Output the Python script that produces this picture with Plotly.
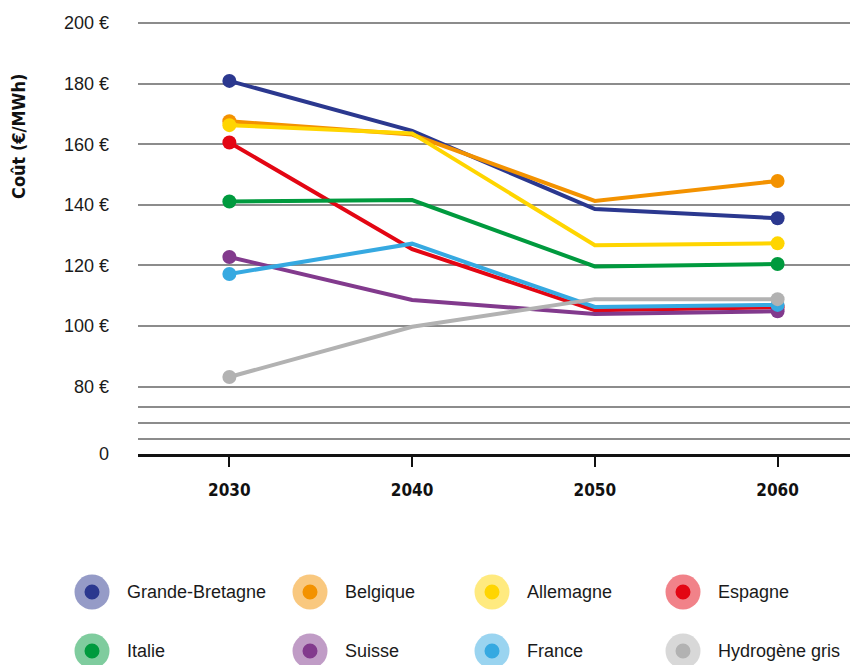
import plotly.graph_objects as go

years = [2030, 2040, 2050, 2060]

grande_bretagne = [180.9, 164.4, 138.6, 135.6]
belgique = [167.6, 163.2, 141.3, 147.9]
allemagne = [166.3, 163.6, 126.7, 127.3]
espagne = [160.6, 125.4, 105.2, 106.2]
italie = [141.1, 141.6, 119.7, 120.5]
suisse = [122.8, 108.6, 104.0, 104.9]
france = [117.2, 127.2, 106.3, 107.0]
hydrogene_gris = [83.2, 99.8, 108.9, 108.9]

names = ["Grande-Bretagne", "Belgique", "Allemagne", "Espagne",
         "Italie", "Suisse", "France", "Hydrogène gris"]
series = [grande_bretagne, belgique, allemagne, espagne,
          italie, suisse, france, hydrogene_gris]
colors = ["#2B388F", "#F39200", "#FFD500", "#E30613",
          "#009A3E", "#823A8D", "#36A9E1", "#B2B2B2"]

# broken axis: "0" sits at the bottom, thin lines mark the break
y_ticks = [80, 100, 120, 140, 160, 180, 200]
axis_base = 57.8
break_lines = [62.7, 68.0, 73.3]

COND = "DejaVu Sans Condensed, Liberation Sans Narrow, sans-serif"

# page body has an 8px margin, so the figure is drawn 8px in from the corner
OFF = 8
W, H = 858 - OFF, 665 - OFF
L, T, PW, PH = 138 - OFF, 20 - OFF, 720, 434

fig = go.Figure()

for name, vals, col in zip(names, series, colors):
    fig.add_trace(go.Scatter(
        x=years, y=vals, name=name, mode="lines+markers",
        line=dict(color=col, width=4),
        marker=dict(color=col, size=[14, 0, 0, 14], opacity=1, line=dict(width=0)),
        showlegend=False,
    ))

# hand-made legend: 4 columns x 2 rows, dot with a pale halo
col_x = [92, 310, 492, 683]
row_y = [592, 651]
for i, (name, col) in enumerate(zip(names, colors)):
    cx = (col_x[i % 4] - OFF - L) / PW
    cy = (T + PH - (row_y[i // 4] - OFF)) / PH
    for r, op in [(17.5, 0.5), (7.5, 1.0)]:
        fig.add_shape(type="circle", xref="paper", yref="paper",
                      xsizemode="pixel", ysizemode="pixel",
                      xanchor=cx, yanchor=cy, x0=-r, x1=r, y0=-r, y1=r,
                      fillcolor=col, opacity=op, line_width=0)
    fig.add_annotation(x=cx + 33 / PW, y=cy, xref="paper", yref="paper",
                       text=name, showarrow=False, xanchor="left", yanchor="middle",
                       font=dict(size=18, color="#1a1a1a"))

fig.add_annotation(x=(18 - OFF - L) / PW, y=(T + PH - (137 - OFF)) / PH,
                   xref="paper", yref="paper",
                   text="<b>Coût (€/MWh)</b>", textangle=-90, showarrow=False,
                   xanchor="center", yanchor="middle",
                   font=dict(size=18, color="#111111", family=COND))

fig.update_layout(
    width=W, height=H,
    margin=dict(l=L, r=0, t=T, b=H - T - PH),
    paper_bgcolor="white", plot_bgcolor="white",
    font=dict(family="Liberation Sans, Arial, sans-serif", size=18, color="#1a1a1a"),
)

fig.update_xaxes(
    range=[2025, 2064.4], tickvals=years,
    ticktext=[f"<b>{y}</b>" for y in years],
    tickfont=dict(size=17, color="#111111", family=COND),
    showgrid=False, zeroline=False,
    showline=True, linecolor="#111111", linewidth=2.5,
    ticks="outside", ticklen=10, tickwidth=2, tickcolor="#111111",
    ticklabelstandoff=9,
)

fig.update_yaxes(
    range=[axis_base, 201],
    tickvals=[axis_base] + break_lines + y_ticks,
    ticktext=["0"] + [""] * len(break_lines) + [f"{v} €" for v in y_ticks],
    showgrid=True, gridcolor="#8c8c8c", gridwidth=1.5,
    zeroline=False, showline=False, ticks="",
    ticklabelstandoff=28,
    tickfont=dict(size=18, color="#1a1a1a"),
)

fig.write_html("out.html")
